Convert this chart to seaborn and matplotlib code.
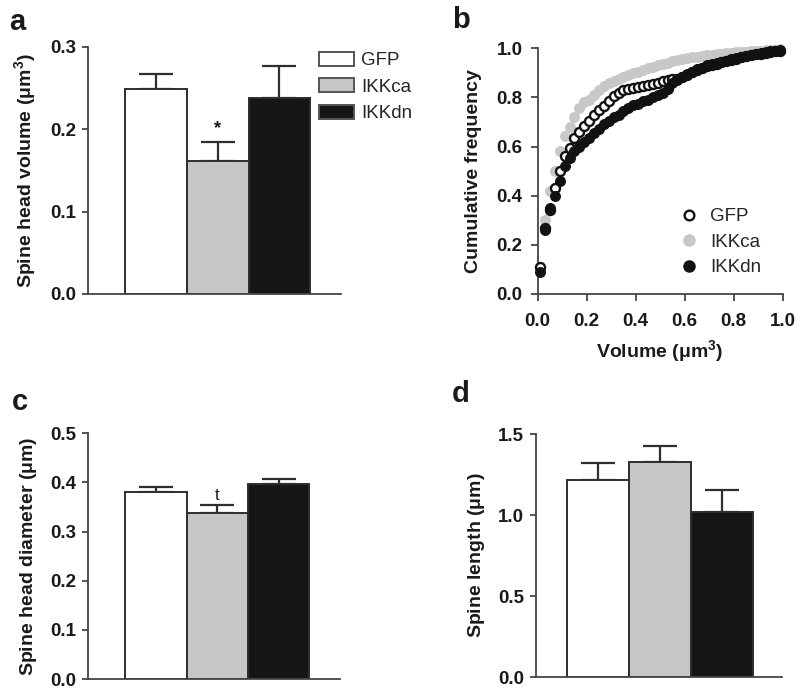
import numpy as np
import pandas as pd
import matplotlib
matplotlib.use("Agg")
import matplotlib.pyplot as plt
import seaborn as sns
from matplotlib.patches import Patch
from matplotlib.lines import Line2D

# ---------------- data ----------------
groups = ["GFP", "IKKca", "IKKdn"]
head_volume = [0.249, 0.162, 0.238]
head_volume_sem = [0.018, 0.023, 0.039]
head_diameter = [0.381, 0.337, 0.396]
head_diameter_sem = [0.010, 0.018, 0.012]
spine_length = [1.217, 1.330, 1.017]
spine_length_sem = [0.103, 0.100, 0.140]

cum_volume = [0.01, 0.03, 0.05, 0.07, 0.09, 0.11, 0.13, 0.15, 0.17, 0.19,
              0.21, 0.23, 0.25, 0.27, 0.29, 0.31, 0.33, 0.35, 0.37, 0.39,
              0.41, 0.43, 0.45, 0.47, 0.49, 0.51, 0.53, 0.55, 0.57, 0.59,
              0.61, 0.63, 0.65, 0.67, 0.69, 0.71, 0.73, 0.75, 0.77, 0.79,
              0.81, 0.83, 0.85, 0.87, 0.89, 0.91, 0.93, 0.95, 0.97, 0.99]
cum_gfp = [0.11, 0.27, 0.34, 0.43, 0.50, 0.56, 0.595, 0.635, 0.66, 0.685,
           0.705, 0.73, 0.75, 0.765, 0.785, 0.805, 0.82, 0.83, 0.835, 0.84,
           0.843, 0.847, 0.85, 0.855, 0.86, 0.866, 0.872, 0.876, 0.874, 0.883,
           0.893, 0.903, 0.913, 0.918, 0.928, 0.933, 0.938, 0.943, 0.948, 0.953,
           0.958, 0.963, 0.968, 0.971, 0.975, 0.978, 0.982, 0.985, 0.988, 0.991]
cum_ikkca = [0.10, 0.30, 0.42, 0.50, 0.58, 0.645, 0.68, 0.72, 0.755, 0.78,
             0.79, 0.81, 0.83, 0.845, 0.858, 0.866, 0.875, 0.884, 0.892, 0.90,
             0.905, 0.912, 0.92, 0.925, 0.93, 0.937, 0.942, 0.947, 0.952, 0.956,
             0.96, 0.963, 0.966, 0.969, 0.971, 0.973, 0.975, 0.977, 0.979, 0.981,
             0.983, 0.985, 0.986, 0.988, 0.989, 0.99, 0.992, 0.993, 0.995, 0.997]
cum_ikkdn = [0.09, 0.26, 0.35, 0.40, 0.46, 0.52, 0.555, 0.58, 0.60, 0.62,
             0.635, 0.655, 0.67, 0.69, 0.705, 0.72, 0.73, 0.745, 0.755, 0.77,
             0.775, 0.785, 0.79, 0.80, 0.81, 0.82, 0.835, 0.86, 0.87, 0.885,
             0.895, 0.905, 0.915, 0.92, 0.93, 0.935, 0.94, 0.945, 0.95, 0.955,
             0.96, 0.965, 0.97, 0.973, 0.977, 0.98, 0.984, 0.987, 0.99, 0.993]

# ---------------- style ----------------
sns.set_style("ticks")
plt.rcParams['font.family'] = ['Liberation Sans', 'DejaVu Sans']
plt.rcParams['mathtext.fontset'] = 'custom'
plt.rcParams['mathtext.rm'] = 'Liberation Sans'
plt.rcParams['mathtext.bf'] = 'Liberation Sans:bold'

W, H = 798, 691
fig = plt.figure(figsize=(W / 100, H / 100), dpi=100)

SPINE = "#454545"
TXT = "#1a1a1a"
EDGE = "#2e2e2e"
bar_colors = ["#ffffff", "#c6c6c6", "#161616"]
TICK_FS = 13.5
LAB_FS = 14


def px_axes(l, t, r, b):
    return fig.add_axes([l / W, 1 - b / H, (r - l) / W, (b - t) / H])


def style_axes(ax, xticks=True):
    sns.despine(ax=ax)
    for s in ["left", "bottom"]:
        ax.spines[s].set_color(SPINE)
        ax.spines[s].set_linewidth(1.3)
    ax.tick_params(axis="y", length=4, width=1.3, color=SPINE, pad=4.5,
                   labelsize=TICK_FS, labelcolor=TXT)
    ax.tick_params(axis="x", length=5 if xticks else 0, width=1.3, color=SPINE,
                   pad=9, labelsize=TICK_FS, labelcolor=TXT)
    for lab in ax.get_yticklabels() + ax.get_xticklabels():
        lab.set_fontweight("bold")


def bar_panel(ax, vals, sems, yticks, ylabel, xlim):
    df = pd.DataFrame({"group": groups, "value": vals})
    sns.barplot(data=df, x="group", y="value", hue="group", palette=bar_colors,
                width=1.0, edgecolor=EDGE, linewidth=1.4, errorbar=None,
                legend=False, ax=ax, zorder=2)
    ax.errorbar(range(len(groups)), vals,
                yerr=[np.zeros(len(sems)), sems], fmt="none",
                ecolor=EDGE, elinewidth=1.6, capsize=12, capthick=1.6, zorder=1)
    ax.set_xlim(*xlim)
    ax.set_ylim(yticks[0], yticks[-1])
    ax.set_yticks(yticks)
    ax.set_yticklabels([f"{t:.1f}" for t in yticks])
    ax.set_xticks([])
    ax.set_xlabel("")
    ax.set_ylabel(ylabel, fontsize=LAB_FS, fontweight="bold", color=TXT, labelpad=8)
    style_axes(ax, xticks=False)


# ---------------- panel a ----------------
ax_a = px_axes(88, 47, 341, 294)
bar_panel(ax_a, head_volume, head_volume_sem, [0.0, 0.1, 0.2, 0.3],
          r"Spine head volume ($\mathbf{\mu}$m$^\mathbf{3}$)", (-1.106, 3.0))
ax_a.text(1, head_volume[1] + head_volume_sem[1] + 0.006, "*", ha="center",
          va="bottom", fontsize=13, fontweight="bold", color=TXT)
handles = [Patch(facecolor=c, edgecolor="#555555", linewidth=1.4) for c in bar_colors]
ax_a.legend(handles, groups, loc="upper left", bbox_to_anchor=(319 / W, 1 - 52 / H),
            bbox_transform=fig.transFigure, frameon=False, fontsize=13.5,
            handlelength=1.85, handleheight=0.75, handletextpad=0.4,
            labelspacing=0.48, borderpad=0, borderaxespad=0)

# ---------------- panel b ----------------
ax_b = px_axes(537.7, 48.3, 782.7, 294)
cum = pd.DataFrame({"volume": cum_volume, "GFP": cum_gfp,
                    "IKKca": cum_ikkca, "IKKdn": cum_ikkdn})
sns.scatterplot(data=cum, x="volume", y="IKKca", color="#c8c8c8", edgecolor="#c8c8c8",
                s=50, linewidth=0.8, ax=ax_b, clip_on=False, zorder=2)
sns.scatterplot(data=cum, x="volume", y="GFP", color="white", edgecolor="#111111",
                s=42, linewidth=1.7, ax=ax_b, clip_on=False, zorder=3)
sns.scatterplot(data=cum, x="volume", y="IKKdn", color="#111111", edgecolor="#111111",
                s=50, linewidth=0.8, ax=ax_b, clip_on=False, zorder=4)
ax_b.set_xlim(0, 1)
ax_b.set_ylim(0, 1)
ticks = [0.0, 0.2, 0.4, 0.6, 0.8, 1.0]
ax_b.set_xticks(ticks)
ax_b.set_yticks(ticks)
ax_b.set_xticklabels([f"{t:.1f}" for t in ticks])
ax_b.set_yticklabels([f"{t:.1f}" for t in ticks])
ax_b.set_xlabel(r"Volume ($\mathbf{\mu}$m$^\mathbf{3}$)", fontsize=LAB_FS,
                fontweight="bold", color=TXT, labelpad=6)
ax_b.set_ylabel("Cumulative frequency", fontsize=LAB_FS, fontweight="bold",
                color=TXT, labelpad=10)
style_axes(ax_b, xticks=True)
ax_b.tick_params(axis="y", length=5, pad=6)
leg_handles = [
    Line2D([], [], ls="none", marker="o", markersize=7, markerfacecolor="white",
           markeredgecolor="#111111", markeredgewidth=1.7),
    Line2D([], [], ls="none", marker="o", markersize=8, markerfacecolor="#c8c8c8",
           markeredgecolor="#c8c8c8"),
    Line2D([], [], ls="none", marker="o", markersize=8, markerfacecolor="#111111",
           markeredgecolor="#111111"),
]
ax_b.legend(leg_handles, groups, loc="upper left", bbox_to_anchor=(680 / W, 1 - 208 / H),
            bbox_transform=fig.transFigure, frameon=False, fontsize=13.5,
            handlelength=1.0, handletextpad=0.6, labelspacing=0.45,
            borderpad=0, borderaxespad=0)

# ---------------- panel c ----------------
ax_c = px_axes(88.3, 433.3, 340, 679)
bar_panel(ax_c, head_diameter, head_diameter_sem, [0.0, 0.1, 0.2, 0.3, 0.4, 0.5],
          r"Spine head diameter ($\mathbf{\mu}$m)", (-1.106, 3.0))
ax_c.text(1, head_diameter[1] + head_diameter_sem[1] + 0.003, "t", ha="center",
          va="bottom", fontsize=12, color=TXT)

# ---------------- panel d ----------------
ax_d = px_axes(536, 434.3, 782, 677)
bar_panel(ax_d, spine_length, spine_length_sem, [0.0, 0.5, 1.0, 1.5],
          r"Spine length ($\mathbf{\mu}$m)", (-1.0, 2.97))

# ---------------- panel letters ----------------
for letter, x, y in [("a", 9, 30), ("b", 452, 28), ("c", 12, 410), ("d", 452, 402)]:
    fig.text(x / W, 1 - y / H, letter, fontsize=21, fontweight="bold",
             color=TXT, ha="left", va="baseline")

fig.savefig("out.png", dpi=100)
